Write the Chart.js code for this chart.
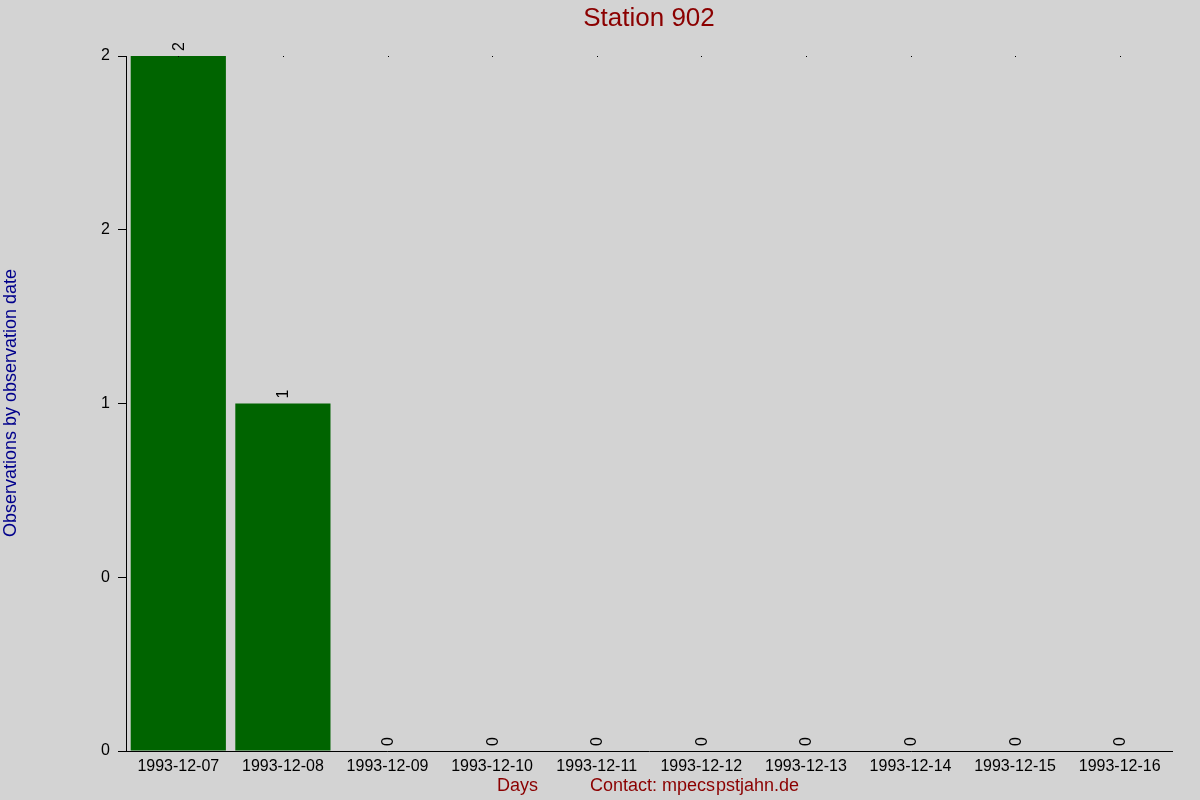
<!DOCTYPE html>
<html>
<head>
<meta charset="utf-8">
<script src="https://cdn.jsdelivr.net/npm/chart.js@4.4.1/dist/chart.umd.min.js"></script>
<style>
  html, body { margin: 0; padding: 0; background: #d3d3d3; }
  canvas { display: block; }
</style>
</head>
<body>
<canvas id="myChart" width="1200" height="800"></canvas>
<script>
// chart data
const days = ['1993-12-07', '1993-12-08', '1993-12-09', '1993-12-10', '1993-12-11',
    '1993-12-12', '1993-12-13', '1993-12-14', '1993-12-15', '1993-12-16'];
const observations = [2, 1, 0, 0, 0, 0, 0, 0, 0, 0];
const yTickLabels = ['0', '0', '1', '2', '2'];

const FONT = "'Liberation Sans', Arial, sans-serif";

// background, value labels, bottom texts
const extras = {
    id: 'extras',
    beforeDraw(chart) {
        const c = chart.ctx;
        c.save();
        c.fillStyle = '#d3d3d3';
        c.fillRect(0, 0, chart.width, chart.height);
        c.restore();
    },
    afterDatasetsDraw(chart) {
        const c = chart.ctx;
        const area = chart.chartArea;
        const meta = chart.getDatasetMeta(0);
        c.save();
        // small marks on top edge
        c.fillStyle = '#000';
        meta.data.forEach(function (bar) {
            c.fillRect(Math.round(bar.x), area.top, 1, 1);
        });
        // rotated value labels
        c.font = '16px ' + FONT;
        c.fillStyle = '#000';
        c.textAlign = 'left';
        c.textBaseline = 'middle';
        meta.data.forEach(function (bar, i) {
            c.save();
            c.translate(bar.x + 1, bar.y - 5);
            c.rotate(-Math.PI / 2);
            c.fillText(String(observations[i]), 0, 0);
            c.restore();
        });
        // title
        c.fillStyle = '#8b0000';
        c.font = '26px ' + FONT;
        c.textAlign = 'center';
        c.textBaseline = 'middle';
        c.fillText('Station 902', (area.left + area.right) / 2, 19);
        // bottom texts
        c.font = '18px ' + FONT;
        c.textAlign = 'left';
        c.fillText('Days', 497, 786);
        c.fillText('Contact: mpecs', 590, 786);
        c.fillText('pstjahn.de', 716, 786);
        // y title
        c.fillStyle = '#00008b';
        c.translate(11, 403);
        c.rotate(-Math.PI / 2);
        c.textAlign = 'center';
        c.fillText('Observations by observation date', 0, 0);
        c.restore();
    }
};

const ctx = document.getElementById('myChart').getContext('2d');
const myChart = new Chart(ctx, {
    type: 'bar',
    data: {
        labels: days,
        datasets: [{
            label: 'Observations',
            data: observations,
            backgroundColor: '#006400',
            borderWidth: 0,
            categoryPercentage: 1.0,
            barPercentage: 0.91
        }]
    },
    options: {
        responsive: false,
        animation: false,
        layout: { padding: { top: 56, right: 28, left: 0, bottom: 0 } },
        plugins: {
            legend: { display: false },
            tooltip: { enabled: false }
        },
        scales: {
            x: {
                grid: { display: false },
                border: { display: true, color: '#000', width: 1 },
                ticks: { color: '#000', font: { family: FONT, size: 16 }, padding: -2, maxRotation: 0, autoSkip: false },
                afterFit(scale) { scale.height = 49; }
            },
            y: {
                min: 0,
                max: 2,
                grid: { drawOnChartArea: false, color: '#000', tickLength: 8 },
                border: { display: true, color: '#000', width: 1 },
                ticks: {
                    stepSize: 0.5,
                    color: '#000',
                    padding: 8,
                    font: { family: FONT, size: 16 },
                    callback: function (value, index) { return yTickLabels[index]; }
                },
                afterFit(scale) { scale.width = 126; }
            }
        }
    },
    plugins: [extras]
});
</script>
</body>
</html>
